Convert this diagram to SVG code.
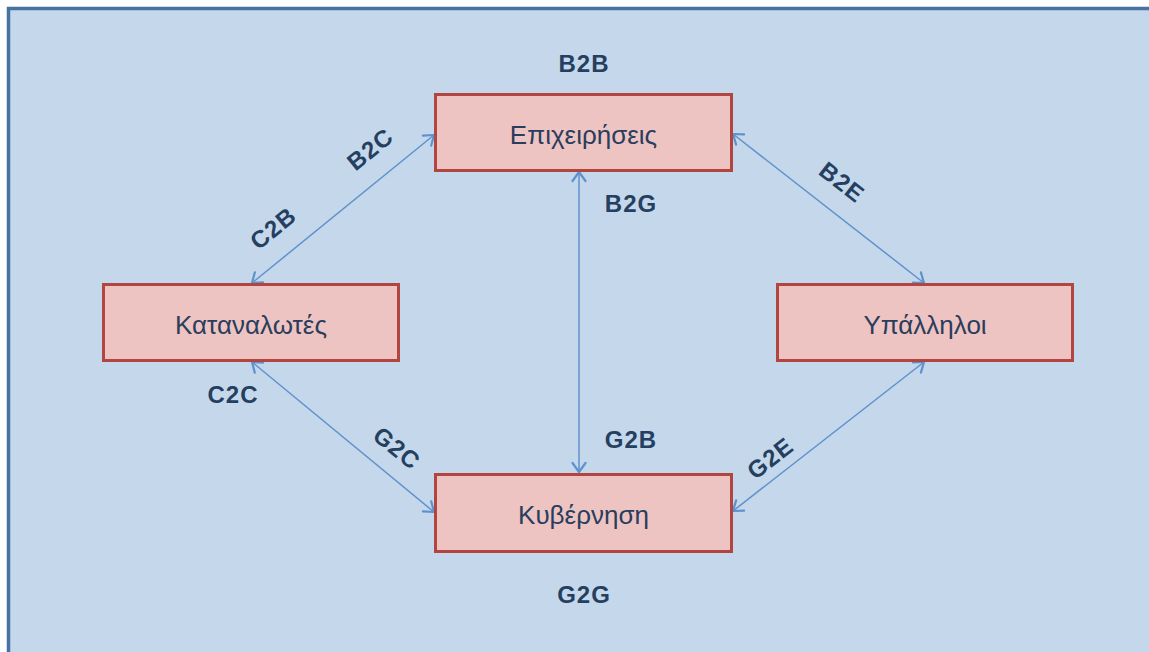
<svg xmlns="http://www.w3.org/2000/svg" width="1149" height="652" viewBox="0 0 1149 652">
  <style>
    .node rect { fill: #eec4c3; stroke: #b2453f; stroke-width: 3; }
    .node text { font-family: "Liberation Sans", Arial, sans-serif; font-size: 26px; fill: #2a3d5c; text-anchor: middle; }
    .lbl { font-family: "Liberation Sans", Arial, sans-serif; font-size: 24px; font-weight: bold; fill: #243f60; text-anchor: middle; letter-spacing: 1px; }
    .rot { dominant-baseline: central; }
    .conn line { stroke: #5e92cc; stroke-width: 1.5; fill: none; marker-start: url(#head); marker-end: url(#head); }
  </style>
  <defs>
    <marker id="head" viewBox="-11 -8 13 16" markerWidth="13" markerHeight="16" refX="0" refY="0" orient="auto-start-reverse" markerUnits="userSpaceOnUse">
      <path d="M -9,-6.5 L 0,0 L -9,6.5" fill="none" stroke="#5e92cc" stroke-width="2.2" stroke-linecap="round" stroke-linejoin="round"/>
    </marker>
  </defs>

  <!-- background panel -->
  <rect x="0" y="0" width="1149" height="652" fill="#ffffff"/>
  <rect x="8.5" y="8.5" width="1150" height="660" fill="#c5d7eb" stroke="#4672a4" stroke-width="3.5"/>

  <!-- connectors -->
  <g id="connectors" class="conn">
    <line x1="252" y1="283" x2="434" y2="135"/>
    <line x1="252" y1="362" x2="434" y2="512"/>
    <line x1="579" y1="172" x2="579" y2="472"/>
    <line x1="733" y1="134" x2="924" y2="283"/>
    <line x1="924" y1="362" x2="733" y2="511"/>
  </g>

  <!-- connector labels -->
  <g id="labels">
    <text class="lbl" x="584" y="72">B2B</text>
    <text class="lbl" x="631" y="212">B2G</text>
    <text class="lbl" x="631" y="448">G2B</text>
    <text class="lbl" x="584" y="603">G2G</text>
    <text class="lbl" x="233" y="403">C2C</text>
    <text class="lbl rot" x="370" y="149" transform="rotate(-39 370 149)">B2C</text>
    <text class="lbl rot" x="273" y="228" transform="rotate(-39 273 228)">C2B</text>
    <text class="lbl rot" x="842" y="182" transform="rotate(38 842 182)">B2E</text>
    <text class="lbl rot" x="397" y="448" transform="rotate(39 397 448)">G2C</text>
    <text class="lbl rot" x="770" y="458" transform="rotate(-38 770 458)">G2E</text>
  </g>

  <!-- nodes -->
  <g id="node-epixeiriseis" class="node">
    <rect x="435.5" y="94.5" width="296" height="76"/>
    <text x="583.5" y="144">Επιχειρήσεις</text>
  </g>
  <g id="node-katanalotes" class="node">
    <rect x="103.5" y="284.5" width="295" height="76"/>
    <text x="251" y="334">Καταναλωτές</text>
  </g>
  <g id="node-ypalliloi" class="node">
    <rect x="777.5" y="284.5" width="295" height="76"/>
    <text x="925" y="334">Υπάλληλοι</text>
  </g>
  <g id="node-kyvernisi" class="node">
    <rect x="435.5" y="474.5" width="296" height="77"/>
    <text x="583.5" y="524">Κυβέρνηση</text>
  </g>
</svg>
